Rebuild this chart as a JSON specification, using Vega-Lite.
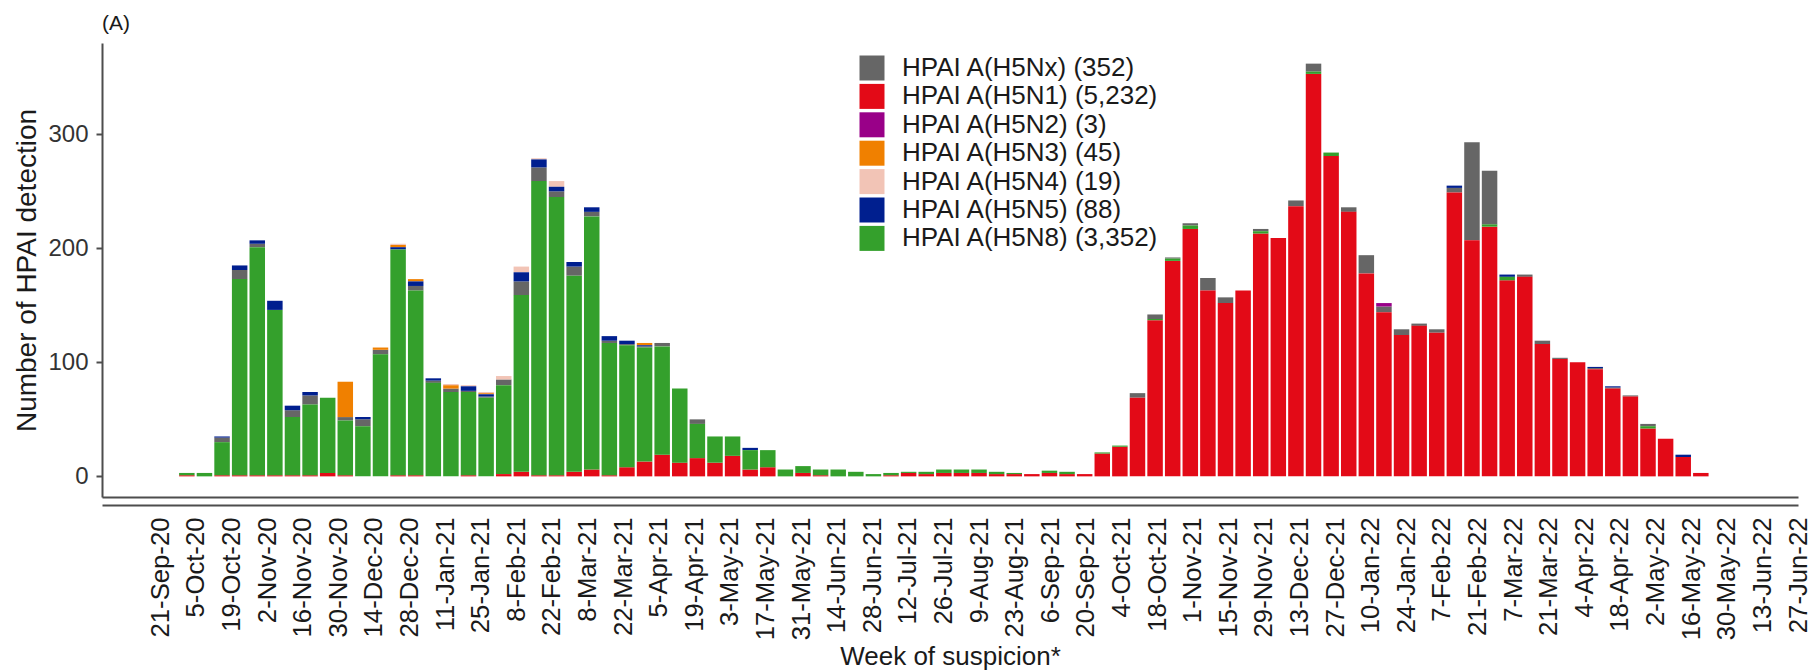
{
  "$schema": "https://vega.github.io/schema/vega-lite/v6.json",
  "width": 1696,
  "height": 454,
  "autosize": {"type": "none"},
  "padding": {"left": 102, "top": 43, "right": 22, "bottom": 173},
  "background": "white",
  "title": {"text": "(A)", "anchor": "start", "frame": "group", "fontSize": 21, "fontWeight": "normal", "color": "#1a1a1a", "offset": 9},
  "config": {"view": {"stroke": null}, "font": "Liberation Sans", "axis": {"grid": false}},
  "datasets": {
    "weeks": [
      {"week":"2020-09-07","H5N1":0},
      {"week":"2020-09-14","H5N1":0},
      {"week":"2020-09-21","H5N1":0},
      {"week":"2020-09-28","H5N1":1,"H5N8":2},
      {"week":"2020-10-05","H5N8":3},
      {"week":"2020-10-12","H5N1":1,"H5N8":29,"H5Nx":4,"H5N5":1},
      {"week":"2020-10-19","H5N1":1,"H5N8":172,"H5Nx":8,"H5N5":4},
      {"week":"2020-10-26","H5N1":1,"H5N8":200,"H5Nx":3,"H5N5":3},
      {"week":"2020-11-02","H5N1":1,"H5N8":145,"H5N5":8},
      {"week":"2020-11-09","H5N1":1,"H5N8":51,"H5Nx":6,"H5N5":4},
      {"week":"2020-11-16","H5N1":1,"H5N8":62,"H5Nx":8,"H5N5":3},
      {"week":"2020-11-23","H5N1":3,"H5N8":66},
      {"week":"2020-11-30","H5N1":1,"H5N8":48,"H5Nx":3,"H5N3":31},
      {"week":"2020-12-07","H5N8":44,"H5Nx":6,"H5N5":2},
      {"week":"2020-12-14","H5N8":107,"H5Nx":4,"H5N3":2},
      {"week":"2020-12-21","H5N1":1,"H5N8":198,"H5N5":2,"H5N3":2,"H5N4":1},
      {"week":"2020-12-28","H5N1":1,"H5N8":162,"H5Nx":4,"H5N5":4,"H5N3":2},
      {"week":"2021-01-04","H5N8":82,"H5Nx":2,"H5N5":2},
      {"week":"2021-01-11","H5N8":74,"H5Nx":3,"H5N3":3,"H5N4":1},
      {"week":"2021-01-18","H5N1":1,"H5N8":73,"H5Nx":1,"H5N5":4,"H5N4":1},
      {"week":"2021-01-25","H5N8":69,"H5Nx":1,"H5N5":2,"H5N3":1,"H5N4":1},
      {"week":"2021-02-01","H5N1":2,"H5N8":78,"H5Nx":5,"H5N4":3},
      {"week":"2021-02-08","H5N1":4,"H5N8":155,"H5Nx":12,"H5N5":8,"H5N4":5},
      {"week":"2021-02-15","H5N1":1,"H5N8":258,"H5Nx":12,"H5N5":7,"H5N4":1},
      {"week":"2021-02-22","H5N1":1,"H5N8":244,"H5Nx":5,"H5N5":4,"H5N4":5},
      {"week":"2021-03-01","H5N1":4,"H5N8":172,"H5Nx":8,"H5N5":4},
      {"week":"2021-03-08","H5N1":6,"H5N8":222,"H5Nx":4,"H5N5":4},
      {"week":"2021-03-15","H5N1":1,"H5N8":116,"H5Nx":2,"H5N5":4},
      {"week":"2021-03-22","H5N1":8,"H5N8":107,"H5Nx":1,"H5N5":3},
      {"week":"2021-03-29","H5N1":13,"H5N8":100,"H5Nx":1,"H5N5":1,"H5N3":2},
      {"week":"2021-04-05","H5N1":19,"H5N8":95,"H5Nx":3},
      {"week":"2021-04-12","H5N1":12,"H5N8":65},
      {"week":"2021-04-19","H5N1":16,"H5N8":30,"H5Nx":4},
      {"week":"2021-04-26","H5N1":12,"H5N8":23},
      {"week":"2021-05-03","H5N1":18,"H5N8":17},
      {"week":"2021-05-10","H5N1":6,"H5N8":17,"H5N5":2},
      {"week":"2021-05-17","H5N1":8,"H5N8":15},
      {"week":"2021-05-24","H5N8":6},
      {"week":"2021-05-31","H5N1":3,"H5N8":6},
      {"week":"2021-06-07","H5N1":1,"H5N8":5},
      {"week":"2021-06-14","H5N8":6},
      {"week":"2021-06-21","H5N8":4},
      {"week":"2021-06-28","H5N8":2},
      {"week":"2021-07-05","H5N1":1,"H5N8":2},
      {"week":"2021-07-12","H5N1":3,"H5N8":1},
      {"week":"2021-07-19","H5N1":2,"H5N8":2},
      {"week":"2021-07-26","H5N1":3,"H5N8":3},
      {"week":"2021-08-02","H5N1":3,"H5N8":3},
      {"week":"2021-08-09","H5N1":3,"H5N8":3},
      {"week":"2021-08-16","H5N1":2,"H5N8":2},
      {"week":"2021-08-23","H5N1":2,"H5N8":1},
      {"week":"2021-08-30","H5N1":2},
      {"week":"2021-09-06","H5N1":3,"H5N8":2},
      {"week":"2021-09-13","H5N1":2,"H5N8":2},
      {"week":"2021-09-20","H5N1":2},
      {"week":"2021-09-27","H5N1":20,"H5N8":1},
      {"week":"2021-10-04","H5N1":26,"H5N8":1},
      {"week":"2021-10-11","H5N1":69,"H5Nx":4},
      {"week":"2021-10-18","H5N1":137,"H5N8":1,"H5Nx":4},
      {"week":"2021-10-25","H5N1":189,"H5N8":2,"H5Nx":1},
      {"week":"2021-11-01","H5N1":217,"H5N8":3,"H5Nx":2},
      {"week":"2021-11-08","H5N1":163,"H5Nx":11},
      {"week":"2021-11-15","H5N1":152,"H5Nx":5},
      {"week":"2021-11-22","H5N1":163},
      {"week":"2021-11-29","H5N1":213,"H5N8":2,"H5Nx":2},
      {"week":"2021-12-06","H5N1":209},
      {"week":"2021-12-13","H5N1":237,"H5Nx":5},
      {"week":"2021-12-20","H5N1":353,"H5N8":2,"H5Nx":7},
      {"week":"2021-12-27","H5N1":281,"H5N8":3},
      {"week":"2022-01-03","H5N1":232,"H5Nx":4},
      {"week":"2022-01-10","H5N1":178,"H5Nx":16},
      {"week":"2022-01-17","H5N1":144,"H5Nx":5,"H5N2":3},
      {"week":"2022-01-24","H5N1":124,"H5Nx":5},
      {"week":"2022-01-31","H5N1":132,"H5Nx":2},
      {"week":"2022-02-07","H5N1":126,"H5Nx":3},
      {"week":"2022-02-14","H5N1":249,"H5Nx":4,"H5N5":2},
      {"week":"2022-02-21","H5N1":207,"H5Nx":86},
      {"week":"2022-02-28","H5N1":219,"H5N8":2,"H5Nx":47},
      {"week":"2022-03-07","H5N1":172,"H5N8":3,"H5N5":2},
      {"week":"2022-03-14","H5N1":175,"H5Nx":2},
      {"week":"2022-03-21","H5N1":116,"H5Nx":3},
      {"week":"2022-03-28","H5N1":103,"H5Nx":1},
      {"week":"2022-04-04","H5N1":100},
      {"week":"2022-04-11","H5N1":94,"H5Nx":1,"H5N5":1},
      {"week":"2022-04-18","H5N1":77,"H5Nx":1,"H5N5":1},
      {"week":"2022-04-25","H5N1":70,"H5Nx":1},
      {"week":"2022-05-02","H5N1":42,"H5N8":2,"H5Nx":2},
      {"week":"2022-05-09","H5N1":33},
      {"week":"2022-05-16","H5N1":17,"H5N5":2},
      {"week":"2022-05-23","H5N1":3},
      {"week":"2022-05-30","H5N1":0},
      {"week":"2022-06-06","H5N1":0},
      {"week":"2022-06-13","H5N1":0},
      {"week":"2022-06-20","H5N1":0},
      {"week":"2022-06-27","H5N1":0}
    ],
    "ticks": [
      {"label":"21-Sep-20"},{"label":"5-Oct-20"},{"label":"19-Oct-20"},{"label":"2-Nov-20"},{"label":"16-Nov-20"},{"label":"30-Nov-20"},{"label":"14-Dec-20"},{"label":"28-Dec-20"},
      {"label":"11-Jan-21"},{"label":"25-Jan-21"},{"label":"8-Feb-21"},{"label":"22-Feb-21"},{"label":"8-Mar-21"},{"label":"22-Mar-21"},{"label":"5-Apr-21"},{"label":"19-Apr-21"},
      {"label":"3-May-21"},{"label":"17-May-21"},{"label":"31-May-21"},{"label":"14-Jun-21"},{"label":"28-Jun-21"},{"label":"12-Jul-21"},{"label":"26-Jul-21"},{"label":"9-Aug-21"},
      {"label":"23-Aug-21"},{"label":"6-Sep-21"},{"label":"20-Sep-21"},{"label":"4-Oct-21"},{"label":"18-Oct-21"},{"label":"1-Nov-21"},{"label":"15-Nov-21"},{"label":"29-Nov-21"},
      {"label":"13-Dec-21"},{"label":"27-Dec-21"},{"label":"10-Jan-22"},{"label":"24-Jan-22"},{"label":"7-Feb-22"},{"label":"21-Feb-22"},{"label":"7-Mar-22"},{"label":"21-Mar-22"},
      {"label":"4-Apr-22"},{"label":"18-Apr-22"},{"label":"2-May-22"},{"label":"16-May-22"},{"label":"30-May-22"},{"label":"13-Jun-22"},{"label":"27-Jun-22"}
    ]
  },
  "layer": [
    {
      "data": {"name": "weeks"},
      "transform": [
        {"fold": ["H5Nx","H5N1","H5N2","H5N3","H5N4","H5N5","H5N8"], "as": ["subtype","n"]},
        {"filter": "isValid(datum.n)"},
        {"calculate": "indexof(['H5N1','H5N8','H5Nx','H5N2','H5N5','H5N3','H5N4'], datum.subtype)", "as": "stackRank"}
      ],
      "mark": {"type": "bar"},
      "encoding": {
        "x": {
          "field": "week", "type": "ordinal",
          "scale": {"paddingInner": 0.12, "paddingOuter": 0.73, "align": 0.945, "round": false},
          "axis": {"orient": "bottom", "labels": false, "ticks": false, "title": null, "domainColor": "#4d4d4d", "domainWidth": 2}
        },
        "y": {
          "field": "n", "type": "quantitative", "stack": "zero",
          "scale": {"domain": [-18.1, 380.1], "nice": false, "zero": false},
          "axis": {"values": [0,100,200,300], "title": "Number of HPAI detection", "titleFontSize": 28, "titleFontWeight": "normal", "titleColor": "#1a1a1a", "titlePadding": 6,
                   "labelFontSize": 24, "labelColor": "#333333", "labelPadding": 8, "tickSize": 6, "tickColor": "#4d4d4d", "tickWidth": 2, "domainColor": "#4d4d4d", "domainWidth": 2}
        },
        "color": {
          "field": "subtype", "type": "nominal",
          "scale": {"domain": ["H5Nx","H5N1","H5N2","H5N3","H5N4","H5N5","H5N8"], "range": ["#666666","#E30A17","#990088","#F08000","#F2C4B6","#001F8F","#34A02C"]},
          "legend": {"orient": "none", "legendX": 757, "legendY": 12, "title": null, "symbolType": "square", "symbolSize": 625, "symbolStrokeWidth": 0,
                     "labelFontSize": 26, "labelColor": "#1a1a1a", "labelOffset": 17, "labelLimit": 500, "rowPadding": 2.4, "padding": 0,
                     "labelExpr": "{'H5Nx':'HPAI A(H5Nx) (352)','H5N1':'HPAI A(H5N1) (5,232)','H5N2':'HPAI A(H5N2) (3)','H5N3':'HPAI A(H5N3) (45)','H5N4':'HPAI A(H5N4) (19)','H5N5':'HPAI A(H5N5) (88)','H5N8':'HPAI A(H5N8) (3,352)'}[datum.label]"}
        },
        "order": {"field": "stackRank", "type": "quantitative"}
      }
    },
    {
      "data": {"name": "ticks"},
      "mark": {"type": "point", "opacity": 0},
      "encoding": {
        "x": {
          "field": "label", "type": "ordinal", "sort": null,
          "scale": {"type": "point", "padding": 0.82, "align": 1, "round": false},
          "axis": {"orient": "bottom", "offset": 8, "labelAngle": 270, "labelFontSize": 25.7, "labelColor": "#1a1a1a", "ticks": false, "tickSize": 0, "labelPadding": 12,
                   "domainColor": "#4d4d4d", "domainWidth": 2, "title": "Week of suspicion*", "titleFontSize": 26, "titleFontWeight": "normal", "titleColor": "#1a1a1a", "titlePadding": 4}
        }
      }
    }
  ],
  "resolve": {"scale": {"x": "independent"}, "axis": {"x": "independent"}}
}
